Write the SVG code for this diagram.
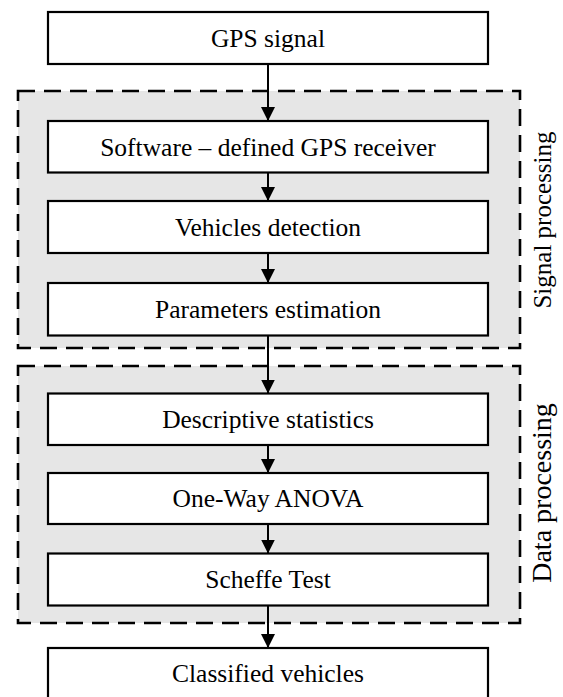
<svg xmlns="http://www.w3.org/2000/svg" width="563" height="697" viewBox="0 0 563 697">
  <defs>
    <style>
      .grp { fill: #e6e6e6; stroke: #000; stroke-width: 2.6; stroke-dasharray: 17 9; }
      .box { fill: #fff; stroke: #000; stroke-width: 2.2; }
      .lbl { font-family: "Liberation Serif", "Times New Roman", serif; font-size: 25.5px; fill: #000; text-anchor: middle; }
      .side { font-family: "Liberation Serif", "Times New Roman", serif; fill: #000; text-anchor: middle; }
      .conn { stroke: #000; stroke-width: 2; fill: none; marker-end: url(#arrow); }
    </style>
    <marker id="arrow" markerWidth="14" markerHeight="14" refX="14" refY="7" orient="auto" markerUnits="userSpaceOnUse">
      <path d="M0,0 L14,7 L0,14 z" fill="#000"/>
    </marker>
  </defs>

  <g id="group-signal">
    <rect class="grp" x="18" y="91" width="502" height="257"/>
    <text class="side" font-size="25" transform="translate(551 220) rotate(-90)">Signal processing</text>
  </g>
  <g id="group-data">
    <rect class="grp" x="18" y="366" width="502" height="257"/>
    <text class="side" font-size="28" transform="translate(551 493) rotate(-90)">Data processing</text>
  </g>

  <g id="n-gps">
    <rect class="box" x="48" y="12" width="440" height="52"/>
    <text class="lbl" x="268" y="46.5">GPS signal</text>
  </g>
  <g id="n-sdr">
    <rect class="box" x="48" y="121" width="440" height="51.5"/>
    <text class="lbl" x="268" y="155.5">Software – defined GPS receiver</text>
  </g>
  <g id="n-vehdet">
    <rect class="box" x="48" y="201" width="440" height="52"/>
    <text class="lbl" x="268" y="235.5">Vehicles detection</text>
  </g>
  <g id="n-params">
    <rect class="box" x="48" y="283" width="440" height="52.5"/>
    <text class="lbl" x="268" y="317.7">Parameters estimation</text>
  </g>
  <g id="n-desc">
    <rect class="box" x="48" y="393.5" width="440" height="51.5"/>
    <text class="lbl" x="268" y="427.7">Descriptive statistics</text>
  </g>
  <g id="n-anova">
    <rect class="box" x="48" y="473" width="440" height="51"/>
    <text class="lbl" x="268" y="507">One-Way ANOVA</text>
  </g>
  <g id="n-scheffe">
    <rect class="box" x="48" y="553.5" width="440" height="52"/>
    <text class="lbl" x="268" y="588">Scheffe Test</text>
  </g>
  <g id="n-classified">
    <rect class="box" x="48" y="648" width="440" height="70"/>
    <text class="lbl" x="268" y="681.5">Classified vehicles</text>
  </g>

  <g id="connectors">
    <line class="conn" x1="268" y1="64" x2="268" y2="121"/>
    <line class="conn" x1="268" y1="172.5" x2="268" y2="201"/>
    <line class="conn" x1="268" y1="253" x2="268" y2="283"/>
    <line class="conn" x1="268" y1="335.5" x2="268" y2="393.5"/>
    <line class="conn" x1="268" y1="445" x2="268" y2="473"/>
    <line class="conn" x1="268" y1="524" x2="268" y2="553.5"/>
    <line class="conn" x1="268" y1="605.5" x2="268" y2="648"/>
  </g>
</svg>
